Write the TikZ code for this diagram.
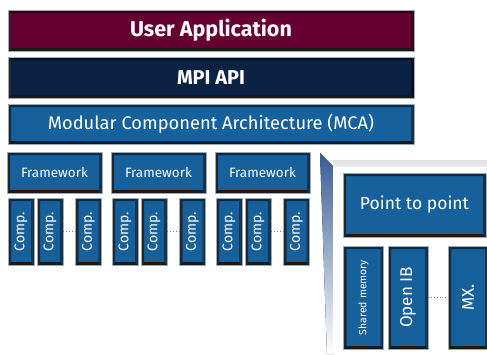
\documentclass[tikz,border=0pt]{standalone}
\usepackage{fontspec}
\setmainfont{Fira Sans}
\usepackage{tikz}
\usetikzlibrary{calc}
\definecolor{appred}{RGB}{102,0,51}
\definecolor{mpinavy}{RGB}{11,34,69}
\definecolor{mcablue}{RGB}{22,96,156}
\definecolor{rimgray}{RGB}{160,168,180}
\definecolor{wedgeblue}{RGB}{58,92,148}
\tikzstyle{bevel} = [fill=#1, draw=rimgray, line width=0.6pt, text=white, inner sep=0pt,
    path picture={
      \fill[#1!45!black] (path picture bounding box.north west) -- (path picture bounding box.north east)
        -- ($(path picture bounding box.north east)+(-3pt,-3pt)$) -- ($(path picture bounding box.north west)+(3pt,-3pt)$) -- cycle;
      \fill[#1!55!black] (path picture bounding box.north east) -- (path picture bounding box.south east)
        -- ($(path picture bounding box.south east)+(-3pt,3pt)$) -- ($(path picture bounding box.north east)+(-3pt,-3pt)$) -- cycle;
      \fill[black!90] (path picture bounding box.south east) -- (path picture bounding box.south west)
        -- ($(path picture bounding box.south west)+(3pt,3pt)$) -- ($(path picture bounding box.south east)+(-3pt,3pt)$) -- cycle;
      \fill[black!85] (path picture bounding box.south west) -- (path picture bounding box.north west)
        -- ($(path picture bounding box.north west)+(3pt,-3pt)$) -- ($(path picture bounding box.south west)+(3pt,3pt)$) -- cycle;
    }]
\tikzstyle{layer} = [bevel=#1, minimum width=406pt, minimum height=41pt]
\tikzstyle{frame} = [bevel=mcablue, minimum width=95pt, minimum height=41pt, font=\fontsize{13.5}{13.5}\selectfont]
\tikzstyle{comp} = [bevel=mcablue, minimum width=26pt, minimum height=67pt]
\tikzstyle{btl} = [bevel=mcablue, minimum width=40pt, minimum height=103pt]
\tikzstyle{dots} = [dotted, thick, gray]

\begin{document}
\begin{tikzpicture}[x=1pt,y=-1pt]
\useasboundingbox[fill=white] (0,0) rectangle (487,354);
\clip (0,0) rectangle (487,354);

%% Lag %%
\node [layer=appred, font=\fontsize{21.5}{21.5}\bfseries\selectfont] (UserApp) at (211,30.5) {User Application};
\node [layer=mpinavy, font=\fontsize{20}{20}\bfseries\selectfont] (MPIAPI) at ($(UserApp)+(0,47)$) {MPI API};
\node [layer=mcablue, minimum height=40pt, font=\fontsize{18.3}{18.3}\selectfont] (MCA) at ($(MPIAPI)+(0,46.5)$) {Modular Component Architecture (MCA)};

%% Frameworks %%
\node [frame] (FrameA) at (54.5,172.5) {Framework};
\node [frame] (FrameB) at ($(FrameA)+(104,0)$) {Framework};
\node [frame] (FrameC) at ($(FrameB)+(104,0)$) {Framework};

%% Components %%
\node [comp, label={[rotate=90,text=white,font=\fontsize{14}{14}\selectfont]center:Comp.}] (CompA1) at ($(FrameA)+(-33.5,59)$) {};
\node [comp, label={[rotate=90,text=white,font=\fontsize{14}{14}\selectfont]center:Comp.}] (CompA2) at ($(FrameA)+(-4.5,59)$) {};
\node [comp, label={[rotate=90,text=white,font=\fontsize{14}{14}\selectfont]center:Comp.}] (CompA3) at ($(FrameA)+(34,59)$) {};
\node [comp, label={[rotate=90,text=white,font=\fontsize{14}{14}\selectfont]center:Comp.}] (CompB1) at ($(FrameB)+(-33.5,59)$) {};
\node [comp, label={[rotate=90,text=white,font=\fontsize{14}{14}\selectfont]center:Comp.}] (CompB2) at ($(FrameB)+(-4.5,59)$) {};
\node [comp, label={[rotate=90,text=white,font=\fontsize{14}{14}\selectfont]center:Comp.}] (CompB3) at ($(FrameB)+(34,59)$) {};
\node [comp, label={[rotate=90,text=white,font=\fontsize{14}{14}\selectfont]center:Comp.}] (CompC1) at ($(FrameC)+(-33.5,59)$) {};
\node [comp, label={[rotate=90,text=white,font=\fontsize{14}{14}\selectfont]center:Comp.}] (CompC2) at ($(FrameC)+(-4.5,59)$) {};
\node [comp, label={[rotate=90,text=white,font=\fontsize{14}{14}\selectfont]center:Comp.}] (CompC3) at ($(FrameC)+(34,59)$) {};

%% Zoom panel %%
\fill[top color=wedgeblue, bottom color=white] (320,153) -- (334,167) -- (334,354) -- (327,354) -- cycle;
\fill[top color=black!12, bottom color=white] (333,160) rectangle (490,175);
\fill[white] (333,167) rectangle (490,354);

\node [bevel=mcablue, minimum width=143pt, minimum height=64pt, font=\fontsize{17.5}{17.5}\selectfont] (PtP) at (414.5,205) {Point to point};
\node [btl, label={[rotate=90,text=white,font=\fontsize{10.5}{10.5}\selectfont]center:Shared memory}] (SharedMem) at (363.5,297.5) {};
\node [btl, label={[rotate=90,text=white,font=\fontsize{17}{17}\selectfont]center:Open IB}] (OpenIB) at ($(SharedMem)+(44.5,0)$) {};
\node [btl, label={[rotate=90,text=white,font=\fontsize{17}{17}\selectfont]center:MX.}] (MX) at ($(OpenIB)+(60,0)$) {};

%% Prikker %%
\draw[dots] (CompA2) -- (CompA3);
\draw[dots] (CompB2) -- (CompB3);
\draw[dots] (CompC2) -- (CompC3);
\draw[dots] (OpenIB) -- (MX);
\end{tikzpicture}
\end{document}
